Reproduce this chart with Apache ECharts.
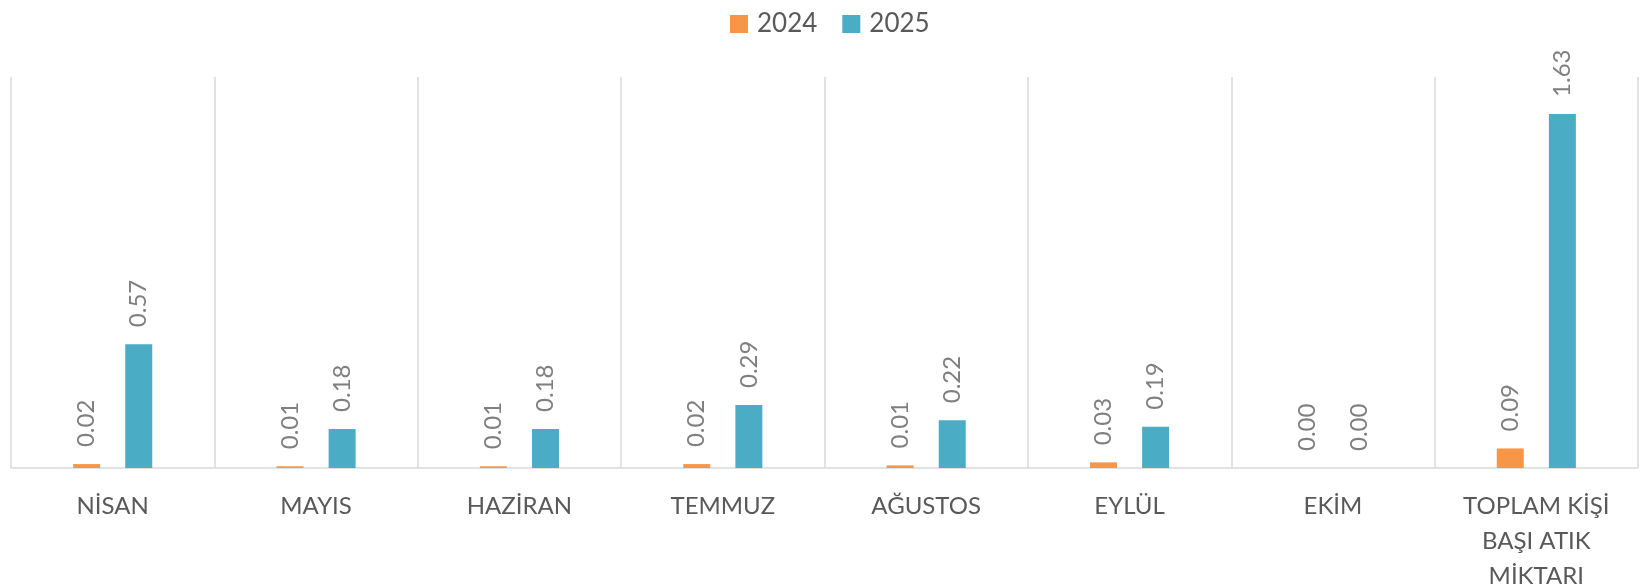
<!DOCTYPE html>
<html>
<head>
<meta charset="utf-8">
<script src="https://cdn.jsdelivr.net/npm/echarts@6/dist/echarts.min.js"></script>
<style>
	html, body { margin: 0; padding: 0; background: #ffffff; }
	#chart { width: 1644px; height: 587px; }
</style>
</head>
<body>
<div id="chart"></div>
<script>
// kategoriler
var categories = ['NİSAN', 'MAYIS', 'HAZİRAN', 'TEMMUZ', 'AĞUSTOS', 'EYLÜL', 'EKİM', 'TOPLAM KİŞİ\nBAŞI ATIK\nMİKTARI'];

// seriler
var values2024 = [0.018, 0.008, 0.008, 0.018, 0.012, 0.026, 0, 0.09];
var values2025 = [0.57, 0.18, 0.18, 0.29, 0.22, 0.19, 0, 1.63];

var seriesNames = ['2024', '2025'];
var colors = ['#F79646', '#4BACC6'];

var fontFamily = 'Lato, "Liberation Sans", sans-serif';

var valueLabel = {
	show: true,
	position: 'top',
	rotate: 90,
	align: 'left',
	verticalAlign: 'middle',
	distance: 17,
	color: '#7f7f7f',
	fontFamily: fontFamily,
	fontSize: 24,
	formatter: function (p) {
		return p.value.toFixed(2);
	}
};

var chart = echarts.init(document.getElementById('chart'));
chart.setOption({
	animation: false,
	color: colors,
	legend: {
		data: seriesNames,
		left: 725,
		top: 6,
		itemWidth: 18,
		itemHeight: 18,
		itemGap: 25,
		icon: 'rect',
		textStyle: {
			color: '#595959',
			fontFamily: fontFamily,
			fontSize: 26,
			padding: [0, 0, 0, 4]
		}
	},
	grid: {
		left: 11,
		right: 6,
		top: 77,
		bottom: 119,
		containLabel: false,
		outerBoundsMode: 'none'
	},
	xAxis: {
		type: 'category',
		data: categories,
		axisLine: { show: true, lineStyle: { color: '#d9d9d9', width: 1.5 } },
		axisTick: { show: false },
		splitLine: { show: true, lineStyle: { color: '#d9d9d9', width: 1.5 } },
		axisLabel: {
			interval: 0,
			margin: 0,
			color: '#595959',
			fontFamily: fontFamily,
			fontSize: 24,
			lineHeight: 35,
			padding: [21, 0, 0, 0]
		}
	},
	yAxis: {
		type: 'value',
		min: 0,
		max: 1.8,
		show: false,
		splitLine: { show: false }
	},
	series: [
		{
			name: seriesNames[0],
			type: 'bar',
			data: values2024,
			barWidth: 27,
			barGap: '93%',
			label: valueLabel
		},
		{
			name: seriesNames[1],
			type: 'bar',
			data: values2025,
			barWidth: 27,
			barGap: '93%',
			label: valueLabel
		}
	]
});
</script>
</body>
</html>
